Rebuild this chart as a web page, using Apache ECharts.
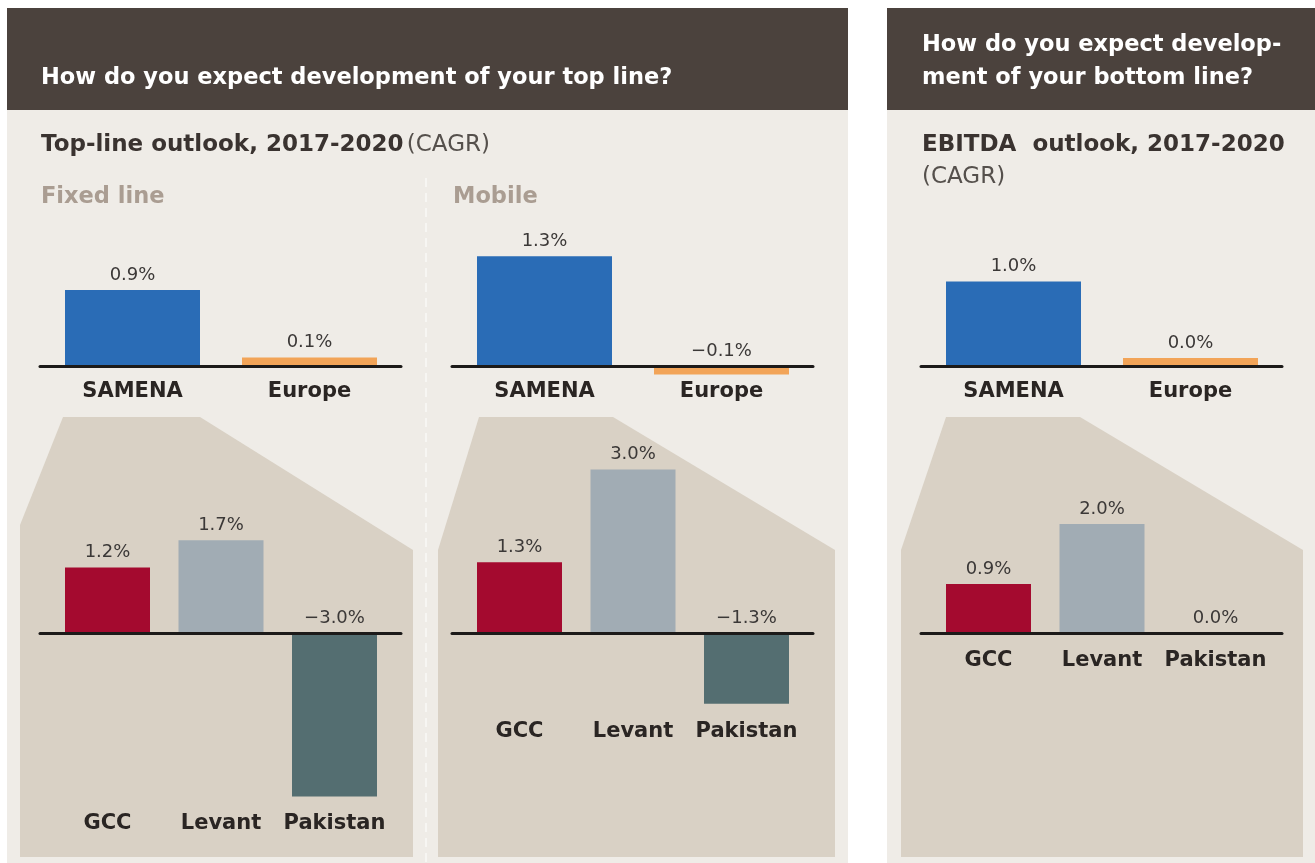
<!DOCTYPE html>
<html><head><meta charset="utf-8">
<script src="https://cdn.jsdelivr.net/npm/echarts@6/dist/echarts.min.js"></script>
<style>html,body{margin:0;padding:0;background:#fff}#c{width:1315px;height:863px}</style>
</head><body><div id="c"></div>
<script>
const topCategories = ['SAMENA', 'Europe'];
const subCategories = ['GCC', 'Levant', 'Pakistan'];
const fixedTop = [0.9, 0.1];
const mobileTop = [1.3, -0.1];
const ebitdaTop = [1.0, 0.0];
const fixedSub = [1.2, 1.7, -3.0];
const mobileSub = [1.3, 3.0, -1.3];
const ebitdaSub = [0.9, 2.0, 0.0];
const topColors = ['#2a6cb6', '#f2a458'];
const subColors = ['#a40a2f', '#a1acb4', '#546e71'];

const FONT = 'DejaVu Sans';
const DARK = '#2a2523';
const grid = [], xAxis = [], yAxis = [], series = [];
function fmt(v) { return (v < 0 ? '\u2212' : '') + Math.abs(v).toFixed(1) + '%'; }
function addChart(o) {
  const min = o.min !== undefined ? o.min : Math.min(0, ...o.vals);
  const gi = grid.length;
  grid.push({ left: o.ox + o.gOff, width: o.gW, top: o.zeroY - o.max * o.ppu, height: (o.max - min) * o.ppu });
  xAxis.push({ gridIndex: gi, type: 'category', data: o.cats, position: 'bottom',
    axisLine: { show: false, onZero: false },
    axisTick: { show: false },
    axisLabel: { interval: 0, margin: o.margin, color: DARK, fontFamily: FONT, fontWeight: 'bold', fontSize: 21 } });
  yAxis.push({ gridIndex: gi, type: 'value', min: min, max: o.max, show: false, splitLine: { show: false } });
  series.push({ type: 'bar', xAxisIndex: gi, yAxisIndex: gi, barWidth: o.barW, barMinHeight: o.minH || 0,
    data: o.vals.map((v, i) => ({ value: v, itemStyle: { color: o.colors[i] } })),
    label: { show: true, position: 'top', distance: 6, formatter: p => fmt(p.value),
      color: '#3b3837', fontFamily: FONT, fontSize: 18 } });
  const li = grid.length;
  grid.push({ left: o.ox, width: 361, top: o.zeroY - 20, height: 20 });
  xAxis.push({ gridIndex: li, type: 'category', data: [''], z: 10,
    axisLine: { show: true, onZero: false, lineStyle: { color: '#1c1a19', width: 3 } },
    axisTick: { show: false }, axisLabel: { show: false } });
  yAxis.push({ gridIndex: li, type: 'value', min: 0, max: 1, show: false });
}
const topMin = Math.min(0, ...fixedTop, ...mobileTop, ...ebitdaTop);
const topCfg = { cats: topCategories, colors: topColors, zeroY: 366, ppu: 84.5, max: 1.6, min: topMin, gOff: 4, gW: 354, barW: 135, margin: 7 };
const subCfg = { cats: subCategories, colors: subColors, zeroY: 633, ppu: 54.5, max: 3.3, gOff: 10.75, gW: 340.5, barW: 85, margin: 17 };
addChart(Object.assign({}, topCfg, { ox: 40, vals: fixedTop }));
addChart(Object.assign({}, topCfg, { ox: 452, vals: mobileTop }));
addChart(Object.assign({}, topCfg, { ox: 921, vals: ebitdaTop, minH: 8 }));
addChart(Object.assign({}, subCfg, { ox: 40, vals: fixedSub }));
addChart(Object.assign({}, subCfg, { ox: 452, vals: mobileSub }));
addChart(Object.assign({}, subCfg, { ox: 921, vals: ebitdaSub }));

const BG = '#efece7', HEAD = '#4b423d', TAN = '#d9d1c5';
function txt(x, y, text, size, weight, color) {
  return { type: 'text', x: x, y: y, z: -5, style: { text: text, fill: color, fontSize: size, fontWeight: weight, fontFamily: FONT, verticalAlign: 'middle' } };
}
const graphic = [
  { type: 'rect', z: -10, shape: { x: 7, y: 8, width: 841, height: 855 }, style: { fill: BG } },
  { type: 'rect', z: -10, shape: { x: 7, y: 8, width: 841, height: 102 }, style: { fill: HEAD } },
  { type: 'rect', z: -10, shape: { x: 887, y: 8, width: 428, height: 855 }, style: { fill: BG } },
  { type: 'rect', z: -10, shape: { x: 887, y: 8, width: 428, height: 102 }, style: { fill: HEAD } },
  { type: 'polygon', z: -9, shape: { points: [[63, 417], [200, 417], [413, 550], [413, 857], [20, 857], [20, 525]] }, style: { fill: TAN } },
  { type: 'polygon', z: -9, shape: { points: [[479, 417], [613, 417], [835, 550], [835, 857], [438, 857], [438, 550]] }, style: { fill: TAN } },
  { type: 'polygon', z: -9, shape: { points: [[946, 417], [1080, 417], [1303, 550], [1303, 857], [901, 857], [901, 550]] }, style: { fill: TAN } },
  { type: 'line', z: -8, shape: { x1: 426, y1: 178, x2: 426, y2: 863 }, style: { stroke: '#faf9f7', lineWidth: 1.5, lineDash: [9, 6] } },
  txt(41, 78, 'How do you expect development of your top line?', 22.5, 'bold', '#ffffff'),
  { type: 'text', x: 41, y: 145, z: -5, style: { text: '{b|Top-line outlook, 2017-2020} {n|(CAGR)}', verticalAlign: 'middle',
      rich: { b: { fontSize: 23, fontWeight: 'bold', fontFamily: FONT, fill: '#3a3330', color: '#3a3330' },
              n: { fontSize: 23, fontWeight: 'normal', fontFamily: FONT, fill: '#55504c', color: '#55504c' } } } },
  txt(41, 197, 'Fixed line', 22.5, 'bold', '#aa9d92'),
  txt(453, 197, 'Mobile', 22.5, 'bold', '#aa9d92'),
  txt(922, 45, 'How do you expect develop-', 22.5, 'bold', '#ffffff'),
  txt(922, 78, 'ment of your bottom line?', 22.5, 'bold', '#ffffff'),
  txt(922, 145, 'EBITDA  outlook, 2017-2020', 23, 'bold', '#3a3330'),
  txt(922, 177, '(CAGR)', 23, 'normal', '#55504c')
];

const chart = echarts.init(document.getElementById('c'), null, { renderer: 'canvas' });
chart.setOption({
  backgroundColor: '#ffffff',
  animation: false,
  graphic: graphic,
  grid: grid, xAxis: xAxis, yAxis: yAxis, series: series
});
</script></body></html>
